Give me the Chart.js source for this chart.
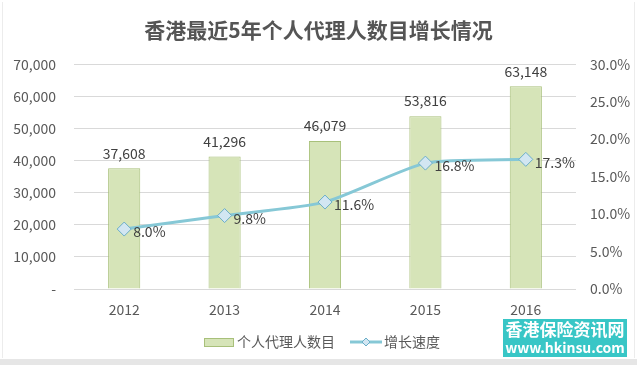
<!DOCTYPE html>
<html>
<head>
<meta charset="utf-8">
<script src="https://cdn.jsdelivr.net/npm/chart.js@4/dist/chart.umd.min.js"></script>
<style>
    html, body { margin: 0; padding: 0; background: #fff; }
    #wrap { position: relative; width: 637px; height: 365px; overflow: hidden; }
    #chart { position: absolute; left: 0; top: 0; }
    #frame { position: absolute; left: 2px; top: 2px; width: 633px; height: 356px; border-left: 1px solid #ececec; border-right: 1px solid #ececec; box-sizing: border-box; pointer-events: none; }
    #strip { position: absolute; left: 0; top: 359px; width: 637px; height: 6px; background: #e6e6e6; }
    #mark { position: absolute; left: 503px; top: 319px; width: 124px; height: 38px; background: #38c6c6; color: #fff; font-family: "Noto Sans CJK SC", sans-serif; font-weight: bold; text-align: center; }
    #mark .cn { font-size: 17px; line-height: 20px; letter-spacing: 0px; }
    #mark .url { font-size: 14px; line-height: 16px; }
</style>
</head>
<body>
<div id="wrap">
    <canvas id="chart" width="637" height="365"></canvas>
    <div id="frame"></div>
    <div id="strip"></div>
    <div id="mark"><div class="cn">香港保险资讯网</div><div class="url">www.hkinsu.com</div></div>
</div>
<script>
const years = ['2012', '2013', '2014', '2015', '2016'];
const agents = [37608, 41296, 46079, 53816, 63148];
const growth = [8.0, 9.8, 11.6, 16.8, 17.3];
const seriesNames = ['个人代理人数目', '增长速度'];

const textColor = '#595959';
const fontFamily = '"Noto Sans CJK SC", "Noto Sans", sans-serif';

const barFill = '#d6e4b8';
const barLine = '#a8c07a';
const lineColor = '#86c8d6';
const markFill = '#d2e6f2';
const markLine = '#6aaec8';

// value labels on bars and points
const valueLabels = {
    id: 'valueLabels',
    afterDatasetsDraw(chart) {
        const ctx = chart.ctx;
        ctx.save();
        ctx.font = '14px ' + fontFamily;
        ctx.fillStyle = '#404040';
        chart.getDatasetMeta(0).data.forEach((bar, i) => {
            ctx.textAlign = 'center';
            ctx.textBaseline = 'bottom';
            ctx.fillText(agents[i].toLocaleString('en-US'), bar.x, bar.y - 8);
        });
        chart.getDatasetMeta(1).data.forEach((pt, i) => {
            ctx.textAlign = 'left';
            ctx.textBaseline = 'middle';
            ctx.fillText(growth[i].toFixed(1) + '%', pt.x + 9, pt.y + 3);
        });
        ctx.restore();
    }
};

// legend at the bottom, drawn by hand
const bottomLegend = {
    id: 'bottomLegend',
    afterDraw(chart) {
        const ctx = chart.ctx;
        const y = 342;
        ctx.save();
        ctx.font = '14px ' + fontFamily;
        ctx.textBaseline = 'middle';
        ctx.textAlign = 'left';

        // bar icon
        ctx.fillStyle = barFill;
        ctx.strokeStyle = barLine;
        ctx.lineWidth = 1;
        ctx.fillRect(204.5, y - 3.5, 29, 8);
        ctx.strokeRect(204.5, y - 3.5, 29, 8);
        ctx.fillStyle = textColor;
        ctx.fillText(seriesNames[0], 237, y);

        // line icon
        ctx.strokeStyle = lineColor;
        ctx.lineWidth = 3;
        ctx.beginPath();
        ctx.moveTo(350, y);
        ctx.lineTo(382, y);
        ctx.stroke();
        ctx.fillStyle = markFill;
        ctx.strokeStyle = markLine;
        ctx.lineWidth = 1;
        ctx.beginPath();
        ctx.moveTo(366, y - 4);
        ctx.lineTo(370, y);
        ctx.lineTo(366, y + 4);
        ctx.lineTo(362, y);
        ctx.closePath();
        ctx.fill();
        ctx.stroke();
        ctx.fillStyle = textColor;
        ctx.fillText(seriesNames[1], 384, y);
        ctx.restore();
    }
};

new Chart(document.getElementById('chart'), {
    data: {
        labels: years,
        datasets: [
            {
                type: 'bar',
                label: seriesNames[0],
                data: agents,
                yAxisID: 'y',
                backgroundColor: barFill,
                borderColor: barLine,
                borderWidth: 1,
                barPercentage: 0.32,
                categoryPercentage: 1.0,
                order: 2
            },
            {
                type: 'line',
                label: seriesNames[1],
                data: growth,
                yAxisID: 'y1',
                borderColor: lineColor,
                borderWidth: 3,
                tension: 0.2,
                pointStyle: 'rectRot',
                pointRadius: 7,
                pointBackgroundColor: markFill,
                pointBorderColor: markLine,
                pointBorderWidth: 1,
                order: 1
            }
        ]
    },
    options: {
        responsive: false,
        animation: false,
        layout: { padding: { top: 0, bottom: 42, left: 0, right: 0 } },
        plugins: {
            title: {
                display: true,
                text: '香港最近5年个人代理人数目增长情况',
                color: '#555555',
                font: { family: fontFamily, size: 21, weight: 'bold' },
                padding: { top: 17, bottom: 22 }
            },
            legend: { display: false },
            tooltip: { enabled: false }
        },
        scales: {
            x: {
                grid: { display: false, drawTicks: false },
                border: { display: false },
                ticks: { color: textColor, font: { family: fontFamily, size: 14 }, padding: 12 },
                afterFit(scale) { scale.height = 34; }
            },
            y: {
                position: 'left',
                min: 0,
                max: 70000,
                ticks: {
                    stepSize: 10000,
                    color: textColor,
                    font: { family: fontFamily, size: 14 },
                    padding: 18,
                    callback: v => v === 0 ? '-' : v.toLocaleString('en-US')
                },
                grid: { color: '#d9d9d9', drawTicks: false },
                border: { display: false },
                afterFit(scale) { scale.width = 74; }
            },
            y1: {
                position: 'right',
                min: 0,
                max: 30,
                ticks: {
                    stepSize: 5,
                    color: textColor,
                    font: { family: fontFamily, size: 14 },
                    padding: 14,
                    callback: v => v.toFixed(1) + '%'
                },
                grid: { display: false, drawTicks: false },
                border: { display: false },
                afterFit(scale) { scale.width = 61; }
            }
        }
    },
    plugins: [valueLabels, bottomLegend]
});
</script>
</body>
</html>
